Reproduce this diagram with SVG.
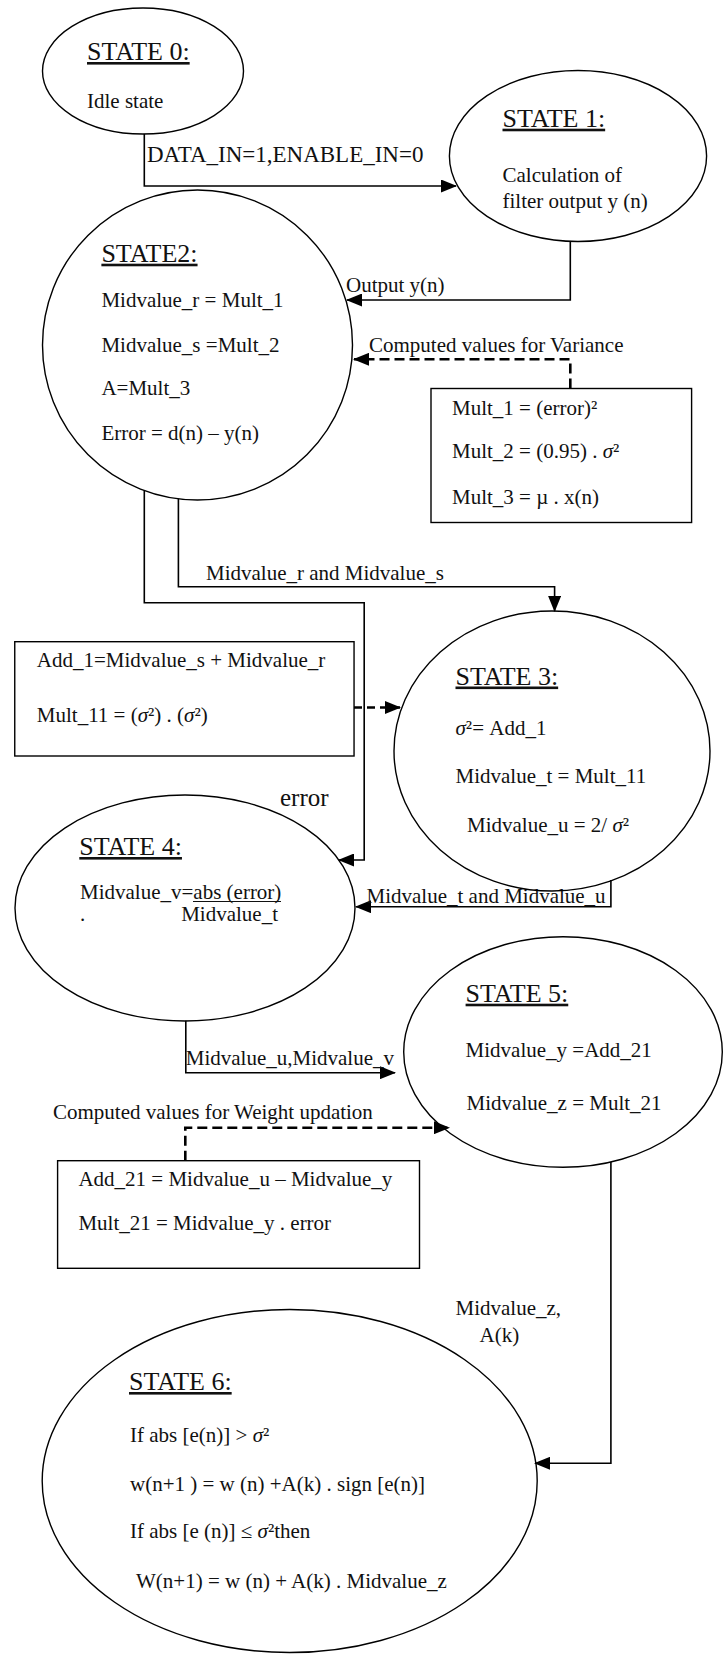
<svg xmlns="http://www.w3.org/2000/svg" width="723" height="1654" viewBox="0 0 723 1654">
<style>
.n{fill:none;stroke:#000;stroke-width:1.4}
.b{fill:none;stroke:#000;stroke-width:1.4}
.t{font-family:"Liberation Serif","Times New Roman",serif;font-size:21px;fill:#111}
.h{font-size:26px;text-decoration:underline}
.l{font-size:23px}
.c{fill:none;stroke:#000;stroke-width:1.6}
.d{fill:none;stroke:#000;stroke-width:2.6;stroke-dasharray:10 5}
.i{font-style:italic}
</style>
<defs>
<marker id="ah" markerWidth="16" markerHeight="13" refX="15" refY="6.5" orient="auto" markerUnits="userSpaceOnUse">
<path d="M0,0 L16,6.5 L0,13 z" fill="#000"/>
</marker>
</defs>
<rect width="723" height="1654" fill="#fff"/>

<g id="connectors">
<path class="c" d="M144.3,134 V186 H456" marker-end="url(#ah)"/>
<text class="t l" x="147" y="162">DATA_IN=1,ENABLE_IN=0</text>
<path class="c" d="M570.3,241.3 V300 H347" marker-end="url(#ah)"/>
<text class="t" x="346" y="291.7">Output y(n)</text>
<path class="d" d="M570.3,388.5 V359.3 H354" marker-end="url(#ah)"/>
<text class="t" x="369" y="351.7">Computed values for Variance</text>
<path class="c" d="M178.4,498.8 V586.7 H554.6 V611" marker-end="url(#ah)"/>
<text class="t" x="206" y="580">Midvalue_r and Midvalue_s</text>
<path class="c" d="M144.3,490.6 V602.7 H364.2 V860 H339" marker-end="url(#ah)"/>
<text class="t" x="280" y="806" style="font-size:25px">error</text>
<path class="d" d="M354,707.5 H400" style="stroke-dasharray:8 5" marker-end="url(#ah)"/>
<path class="c" d="M610.9,880 V906.7 H356" marker-end="url(#ah)"/>
<text class="t" x="366.5" y="903.3">Midvalue_t and Midvalue_u</text>
<path class="c" d="M185.8,1020.7 V1072.7 H395" marker-end="url(#ah)"/>
<text class="t" x="185.8" y="1065">Midvalue_u,Midvalue_v</text>
<path class="d" d="M185.3,1160.7 V1127.7 H449" marker-end="url(#ah)"/>
<text class="t" x="53" y="1119.3">Computed values for Weight updation</text>
<path class="c" d="M610.9,1162 V1463.3 H535" marker-end="url(#ah)"/>
<text class="t" x="455.5" y="1315">Midvalue_z,</text>
<text class="t" x="479.5" y="1341.7">A(k)</text>
</g>

<g id="state0">
<ellipse class="n" cx="143" cy="71" rx="100.5" ry="63"/>
<text class="t h" x="87" y="60">STATE 0:</text>
<text class="t" x="87" y="108">Idle state</text>
</g>

<g id="state1">
<ellipse class="n" cx="578" cy="156" rx="128.6" ry="85.5"/>
<text class="t h" x="502.5" y="126.7">STATE 1:</text>
<text class="t" x="502.5" y="181.7">Calculation of</text>
<text class="t" x="502.5" y="208.3">filter output y (n)</text>
</g>

<g id="state2">
<ellipse class="n" cx="197.5" cy="345" rx="155" ry="155"/>
<text class="t h" x="101.4" y="261.7">STATE2:</text>
<text class="t" x="101.4" y="306.7">Midvalue_r = Mult_1</text>
<text class="t" x="101.4" y="351.7">Midvalue_s =Mult_2</text>
<text class="t" x="101.4" y="395">A=Mult_3</text>
<text class="t" x="101.4" y="440">Error = d(n) – y(n)</text>
</g>

<g id="variance-box">
<rect class="b" x="431" y="388.5" width="260.6" height="134"/>
<text class="t" x="452" y="415">Mult_1 = (error)²</text>
<text class="t" x="452" y="458.3">Mult_2 = (0.95) . <tspan class="i">σ</tspan>²</text>
<text class="t" x="452" y="503.5">Mult_3 = µ . x(n)</text>
</g>

<g id="add1-box">
<rect class="b" x="14.75" y="641.7" width="339.3" height="114.3"/>
<text class="t" x="36.8" y="667">Add_1=Midvalue_s + Midvalue_r</text>
<text class="t" x="36.8" y="722">Mult_11 = (<tspan class="i">σ</tspan>²) . (<tspan class="i">σ</tspan>²)</text>
</g>

<g id="state3">
<ellipse class="n" cx="552" cy="751" rx="158" ry="140"/>
<text class="t h" x="455.5" y="684.5">STATE 3:</text>
<text class="t" x="455.5" y="734.5"><tspan class="i">σ</tspan>²= Add_1</text>
<text class="t" x="455.5" y="782.5">Midvalue_t = Mult_11</text>
<text class="t" x="467" y="831.7">Midvalue_u = 2/ <tspan class="i">σ</tspan>²</text>
</g>

<g id="state4">
<ellipse class="n" cx="185" cy="908" rx="170" ry="113"/>
<text class="t h" x="79.3" y="855">STATE 4:</text>
<text class="t" x="80" y="898.5">Midvalue_v=abs (error)</text>
<line x1="193" y1="901.5" x2="281" y2="901.5" stroke="#111" stroke-width="1.2"/>
<text class="t" x="80" y="921">.</text>
<text class="t" x="181.2" y="921">Midvalue_t</text>
</g>

<g id="state5">
<ellipse class="n" cx="563" cy="1052" rx="159.3" ry="115.3"/>
<text class="t h" x="465.6" y="1001.7">STATE 5:</text>
<text class="t" x="465.6" y="1056.7">Midvalue_y =Add_21</text>
<text class="t" x="466.6" y="1110">Midvalue_z = Mult_21</text>
</g>

<g id="weight-box">
<rect class="b" x="57.6" y="1160.7" width="361.9" height="107.6"/>
<text class="t" x="78.4" y="1186">Add_21 = Midvalue_u – Midvalue_y</text>
<text class="t" x="78.4" y="1230">Mult_21 = Midvalue_y . error</text>
</g>

<g id="state6">
<ellipse class="n" cx="289.7" cy="1481" rx="247.5" ry="171.5"/>
<text class="t h" x="129" y="1390">STATE 6:</text>
<text class="t" x="130" y="1442">If abs [e(n)] &gt; <tspan class="i">σ</tspan>²</text>
<text class="t" x="130" y="1491">w(n+1 ) = w (n) +A(k) . sign [e(n)]</text>
<text class="t" x="130" y="1538.3">If abs [e (n)] ≤ <tspan class="i">σ</tspan>²then</text>
<text class="t" x="136" y="1588.3">W(n+1) = w (n) + A(k) . Midvalue_z</text>
</g>
</svg>
